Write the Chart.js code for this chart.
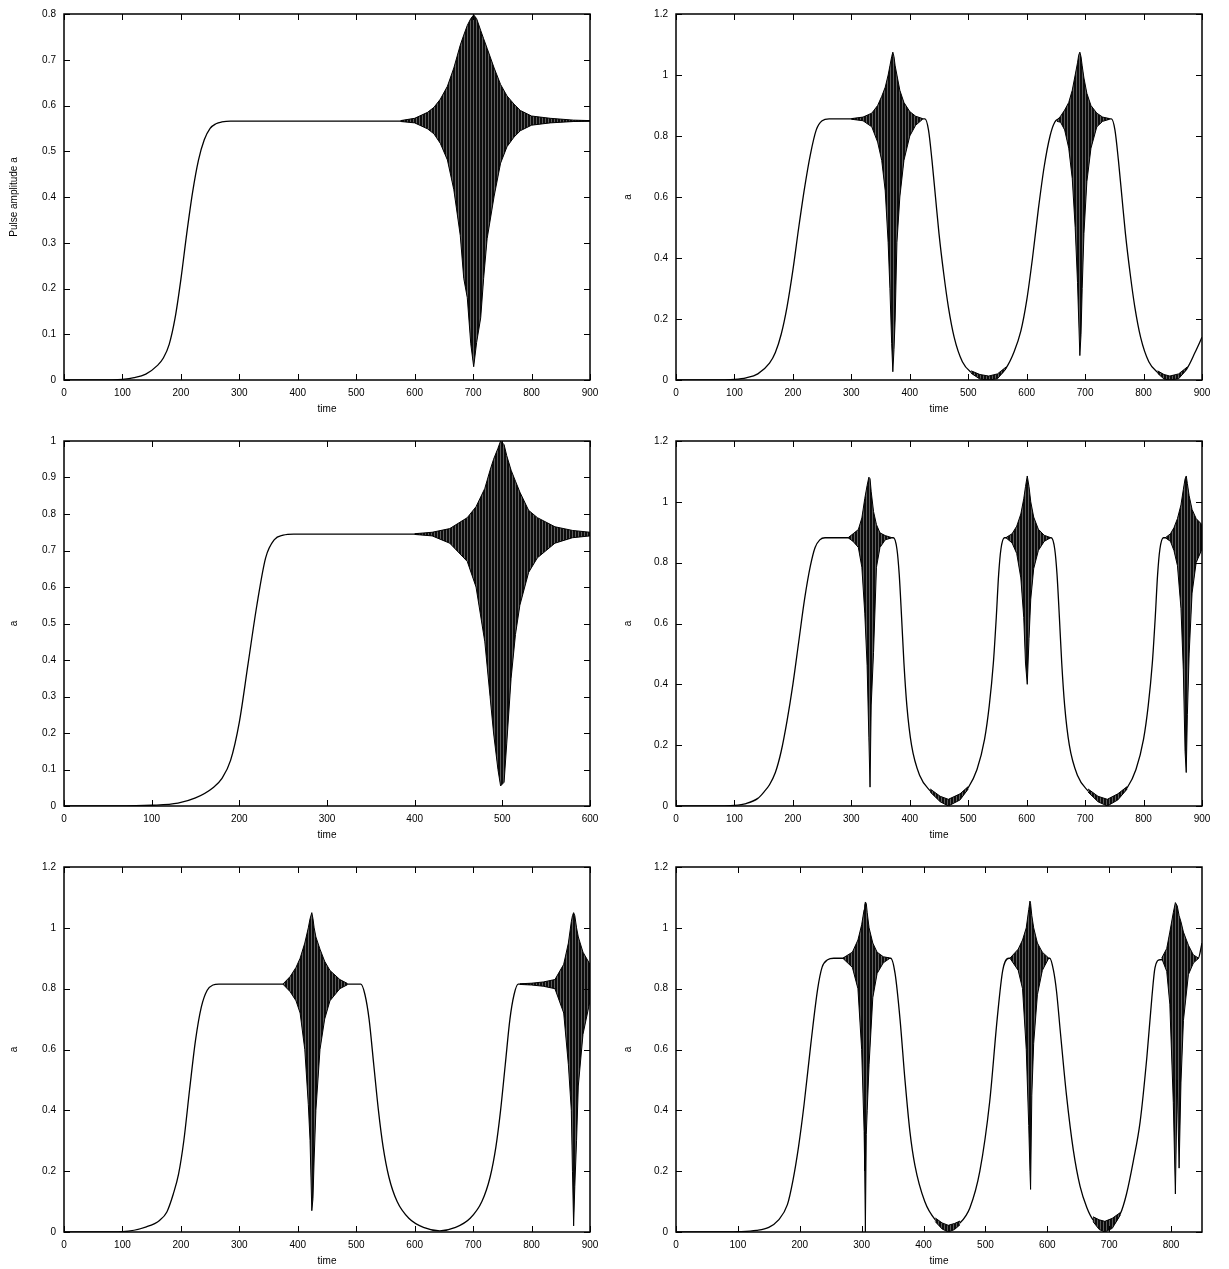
<!DOCTYPE html>
<html>
<head>
<meta charset="utf-8">
<script src="https://cdn.jsdelivr.net/npm/chart.js@4.4.0/dist/chart.umd.min.js"></script>
<style>
body{margin:0;background:#fff;width:1229px;height:1269px;position:relative;overflow:hidden}
canvas{position:absolute}
</style>
</head>
<body>
<canvas id="c1" width="614" height="416" style="left:0;top:0"></canvas>
<canvas id="c2" width="614" height="416" style="left:612px;top:0"></canvas>
<canvas id="c3" width="614" height="415" style="left:0;top:427px"></canvas>
<canvas id="c4" width="614" height="415" style="left:612px;top:427px"></canvas>
<canvas id="c5" width="614" height="415" style="left:0;top:853px"></canvas>
<canvas id="c6" width="614" height="415" style="left:612px;top:853px"></canvas>
<script>
// tick values and labels
const xTicks900 = [0, 100, 200, 300, 400, 500, 600, 700, 800, 900]
const xLabels900 = ['0', '100', '200', '300', '400', '500', '600', '700', '800', '900']
const xTicks600 = [0, 100, 200, 300, 400, 500, 600]
const xLabels600 = ['0', '100', '200', '300', '400', '500', '600']
const xTicks850 = [0, 100, 200, 300, 400, 500, 600, 700, 800]
const xLabels850 = ['0', '100', '200', '300', '400', '500', '600', '700', '800']
const yTicks08 = [0, 0.1, 0.2, 0.3, 0.4, 0.5, 0.6, 0.7, 0.8]
const yLabels08 = ['0', '0.1', '0.2', '0.3', '0.4', '0.5', '0.6', '0.7', '0.8']
const yTicks10 = [0, 0.1, 0.2, 0.3, 0.4, 0.5, 0.6, 0.7, 0.8, 0.9, 1]
const yLabels10 = ['0', '0.1', '0.2', '0.3', '0.4', '0.5', '0.6', '0.7', '0.8', '0.9', '1']
const yTicks12 = [0, 0.2, 0.4, 0.6, 0.8, 1, 1.2]
const yLabels12 = ['0', '0.2', '0.4', '0.6', '0.8', '1', '1.2']

// panel 1 (top left)
const p1Time = [0, 60, 100, 120, 140, 160, 170, 180, 190, 200, 210, 220, 230, 240, 250, 260, 270, 285, 900]
const p1Amp = [0, 0, 0.0015, 0.005, 0.013, 0.032, 0.048, 0.078, 0.135, 0.22, 0.32, 0.41, 0.48, 0.525, 0.55, 0.56, 0.564, 0.566, 0.566]
const p1b1Time = [576, 600, 622, 633, 644, 656, 667, 678, 684, 690, 696, 701, 706, 713, 718, 724, 736, 747, 758, 770, 781, 800, 832, 872, 900]
const p1b1High = [0.567, 0.572, 0.585, 0.596, 0.614, 0.642, 0.682, 0.732, 0.754, 0.775, 0.79, 0.798, 0.79, 0.764, 0.746, 0.725, 0.682, 0.646, 0.621, 0.603, 0.589, 0.577, 0.572, 0.568, 0.567]
const p1b1Low = [0.565, 0.562, 0.549, 0.538, 0.517, 0.481, 0.416, 0.316, 0.222, 0.18, 0.079, 0.029, 0.082, 0.136, 0.222, 0.309, 0.402, 0.474, 0.51, 0.531, 0.545, 0.557, 0.562, 0.565, 0.566]

// panel 2 (top right)
const p2Time = [0, 60, 100, 120, 140, 160, 170, 180, 190, 200, 210, 220, 230, 240, 250, 262, 426, 432, 438, 444, 450, 458, 466, 476, 490, 505, 520, 535, 550, 565, 578, 590, 600, 610, 620, 630, 640, 648, 656, 745, 751, 757, 763, 769, 777, 785, 795, 809, 824, 835, 845, 860, 875, 888, 900]
const p2Amp = [0, 0, 0.002, 0.007, 0.02, 0.055, 0.09, 0.15, 0.24, 0.36, 0.5, 0.63, 0.74, 0.82, 0.85, 0.856, 0.856, 0.82, 0.72, 0.6, 0.48, 0.35, 0.24, 0.14, 0.06, 0.025, 0.01, 0.005, 0.012, 0.04, 0.09, 0.16, 0.26, 0.4, 0.56, 0.7, 0.8, 0.845, 0.856, 0.856, 0.82, 0.72, 0.6, 0.48, 0.35, 0.24, 0.14, 0.06, 0.025, 0.01, 0.005, 0.012, 0.04, 0.09, 0.14]
const p2b1Time = [300, 320, 335, 345, 352, 358, 363, 366, 369, 371, 373, 375, 378, 383, 390, 400, 410, 422]
const p2b1High = [0.857, 0.862, 0.875, 0.9, 0.93, 0.96, 1.0, 1.03, 1.06, 1.075, 1.06, 1.03, 1.0, 0.95, 0.91, 0.88, 0.865, 0.857]
const p2b1Low = [0.855, 0.85, 0.83, 0.78, 0.72, 0.62, 0.45, 0.3, 0.12, 0.027, 0.1, 0.2, 0.45, 0.6, 0.72, 0.8, 0.835, 0.855]
const p2b2Time = [652, 658, 665, 672, 678, 683, 687, 689, 691, 693, 695, 698, 703, 710, 720, 730, 742]
const p2b2High = [0.852, 0.865, 0.885, 0.91, 0.95, 1.0, 1.04, 1.065, 1.075, 1.06, 1.03, 0.99, 0.94, 0.9, 0.875, 0.862, 0.857]
const p2b2Low = [0.848, 0.845, 0.82, 0.76, 0.66, 0.5, 0.32, 0.2, 0.08, 0.15, 0.3, 0.48, 0.65, 0.76, 0.83, 0.848, 0.855]
const p2r1Time = [505, 520, 535, 550, 565]
const p2r2Time = [824, 835, 845, 860, 875]
const p2rHigh = [0.03, 0.018, 0.013, 0.02, 0.043]
const p2rLow = [0.022, 0.003, 0, 0.004, 0.037]

// panel 3 (middle left)
const p3Time = [0, 60, 100, 130, 150, 170, 180, 190, 200, 210, 220, 230, 240, 250, 262, 600]
const p3Amp = [0, 0, 0.002, 0.008, 0.022, 0.05, 0.075, 0.125, 0.23, 0.39, 0.55, 0.68, 0.73, 0.742, 0.745, 0.745]
const p3b1Time = [400, 420, 440, 460, 470, 480, 486, 490, 495, 498, 502, 505, 510, 515, 520, 530, 540, 560, 580, 600]
const p3b1High = [0.746, 0.75, 0.76, 0.79, 0.82, 0.87, 0.92, 0.95, 0.98, 1.0, 0.99, 0.96, 0.92, 0.89, 0.86, 0.81, 0.79, 0.765, 0.755, 0.75]
const p3b1Low = [0.744, 0.74, 0.72, 0.67, 0.6, 0.45, 0.3, 0.2, 0.1, 0.055, 0.065, 0.17, 0.35, 0.47, 0.55, 0.64, 0.68, 0.72, 0.735, 0.74]

// panel 4 (middle right)
const p4Time = [0, 60, 100, 120, 140, 150, 160, 170, 180, 190, 200, 210, 220, 230, 238, 246, 255, 372, 378, 382, 386, 390, 395, 403, 417, 435, 452, 466, 486, 500, 515, 528, 536, 543, 548, 552, 556, 562, 642, 648, 652, 656, 660, 665, 673, 687, 705, 722, 738, 756, 772, 787, 800, 808, 815, 820, 824, 828, 834, 900]
const p4Amp = [0, 0, 0.002, 0.008, 0.025, 0.045, 0.07, 0.11, 0.18, 0.28, 0.4, 0.54, 0.68, 0.79, 0.85, 0.875, 0.882, 0.882, 0.845, 0.76, 0.62, 0.47, 0.33, 0.2, 0.1, 0.05, 0.022, 0.01, 0.03, 0.06, 0.12, 0.22, 0.33, 0.47, 0.62, 0.76, 0.845, 0.882, 0.882, 0.845, 0.76, 0.62, 0.47, 0.33, 0.2, 0.1, 0.05, 0.022, 0.01, 0.03, 0.06, 0.12, 0.22, 0.33, 0.47, 0.62, 0.76, 0.845, 0.882, 0.882]
const p4b1Time = [295, 303, 312, 318, 323, 327, 330, 332, 334, 338, 343, 349, 358, 368]
const p4b1High = [0.883, 0.895, 0.909, 0.947, 1.011, 1.054, 1.081, 1.076, 1.033, 0.968, 0.925, 0.898, 0.889, 0.883]
const p4b1Low = [0.881, 0.87, 0.85, 0.785, 0.634, 0.461, 0.224, 0.062, 0.332, 0.505, 0.785, 0.85, 0.875, 0.881]
const p4b2Time = [565, 575, 583, 590, 595, 598, 601, 604, 607, 612, 620, 630, 640]
const p4b2High = [0.883, 0.895, 0.92, 0.96, 1.01, 1.05, 1.085, 1.05, 1.0, 0.95, 0.91, 0.89, 0.883]
const p4b2Low = [0.881, 0.865, 0.83, 0.75, 0.62, 0.47, 0.4, 0.55, 0.68, 0.78, 0.84, 0.87, 0.881]
const p4b3Time = [838, 846, 852, 858, 864, 868, 871, 873, 875, 878, 883, 890, 900]
const p4b3High = [0.883, 0.895, 0.915, 0.945, 0.99, 1.04, 1.075, 1.085, 1.06, 1.02, 0.975, 0.945, 0.925]
const p4b3Low = [0.881, 0.87, 0.84, 0.79, 0.65, 0.45, 0.18, 0.11, 0.3, 0.5, 0.7, 0.8, 0.845]
const p4r1Time = [435, 452, 466, 486, 500]
const p4r2Time = [705, 722, 738, 756, 772]
const p4rHigh = [0.056, 0.032, 0.022, 0.04, 0.064]
const p4rLow = [0.046, 0.014, 0, 0.02, 0.056]

// panel 5 (bottom left)
const p5Time = [0, 60, 100, 141, 164, 176, 187, 196, 205, 215, 225, 235, 245, 255, 265, 508, 515, 522, 530, 538, 546, 556, 570, 590, 615, 643, 670, 695, 715, 729, 739, 747, 755, 763, 770, 777, 900]
const p5Amp = [0, 0, 0.001, 0.017, 0.039, 0.066, 0.125, 0.19, 0.3, 0.47, 0.63, 0.74, 0.795, 0.812, 0.815, 0.815, 0.78, 0.7, 0.55, 0.4, 0.28, 0.18, 0.1, 0.045, 0.015, 0.004, 0.015, 0.045, 0.1, 0.18, 0.28, 0.4, 0.55, 0.7, 0.78, 0.815, 0.815]
const p5b1Time = [375, 387, 397, 404, 412, 418, 421, 424, 426, 428, 431, 438, 446, 455, 472, 485]
const p5b1High = [0.816, 0.84, 0.87, 0.9, 0.95, 1.0, 1.03, 1.05, 1.03, 1.0, 0.97, 0.93, 0.89, 0.86, 0.83, 0.817]
const p5b1Low = [0.814, 0.79, 0.76, 0.72, 0.6, 0.42, 0.3, 0.07, 0.11, 0.24, 0.4, 0.6, 0.7, 0.76, 0.8, 0.813]
const p5b2Time = [780, 800, 820, 840, 855, 863, 868, 870, 872, 874, 877, 880, 888, 900]
const p5b2High = [0.816, 0.818, 0.822, 0.83, 0.88, 0.95, 1.02, 1.04, 1.05, 1.04, 1.0, 0.97, 0.92, 0.88]
const p5b2Low = [0.814, 0.812, 0.808, 0.8, 0.72, 0.55, 0.4, 0.2, 0.02, 0.15, 0.3, 0.48, 0.65, 0.76]

// panel 6 (bottom right)
const p6Time = [0, 60, 100, 130, 150, 165, 180, 189, 198, 207, 218, 229, 236, 245, 255, 347, 354, 362, 370, 378, 386, 402, 419, 440, 459, 475, 491, 507, 519, 528, 538, 604, 610, 615, 621, 631, 642, 653, 664, 674, 693, 718, 728, 739, 750, 761, 769, 774, 782, 844, 850]
const p6Amp = [0, 0, 0.001, 0.005, 0.015, 0.038, 0.09, 0.17, 0.28, 0.42, 0.62, 0.8, 0.87, 0.895, 0.9, 0.9, 0.85, 0.7, 0.5, 0.33, 0.22, 0.1, 0.04, 0.01, 0.03, 0.08, 0.2, 0.43, 0.7, 0.86, 0.9, 0.9, 0.86, 0.79, 0.66, 0.45, 0.27, 0.15, 0.08, 0.04, 0.01, 0.06, 0.125, 0.233, 0.362, 0.577, 0.771, 0.868, 0.895, 0.9, 0.95]
const p6b1Time = [270, 285, 294, 300, 304, 305, 306, 307.5, 309, 312, 318, 325, 335, 345]
const p6b1High = [0.901, 0.92, 0.96, 1.01, 1.06, 1.075, 1.085, 1.08, 1.05, 1.0, 0.95, 0.92, 0.905, 0.901]
const p6b1Low = [0.899, 0.87, 0.8, 0.6, 0.33, 0.2, 0.0, 0.32, 0.4, 0.55, 0.77, 0.85, 0.885, 0.899]
const p6b2Time = [540, 553, 560, 566, 570, 572, 573, 575, 578, 584, 592, 602]
const p6b2High = [0.901, 0.93, 0.96, 1.0, 1.06, 1.088, 1.08, 1.04, 1.0, 0.95, 0.92, 0.901]
const p6b2Low = [0.899, 0.86, 0.8, 0.6, 0.35, 0.2, 0.14, 0.45, 0.62, 0.78, 0.86, 0.899]
const p6b3Time = [785, 793, 798, 803.6, 807, 810, 813, 816, 820, 828, 836, 844]
const p6b3High = [0.901, 0.932, 0.986, 1.05, 1.083, 1.072, 1.04, 1.02, 0.986, 0.943, 0.911, 0.901]
const p6b3Low = [0.899, 0.857, 0.749, 0.426, 0.125, 0.5, 0.21, 0.49, 0.695, 0.846, 0.884, 0.899]
const p6r1Time = [419, 430, 440, 450, 459]
const p6r1High = [0.046, 0.03, 0.022, 0.028, 0.036]
const p6r1Low = [0.034, 0.01, 0, 0.008, 0.024]
const p6r2Time = [674, 684, 693, 705, 718]
const p6r2High = [0.05, 0.04, 0.035, 0.045, 0.064]
const p6r2Low = [0.034, 0.008, 0, 0.012, 0.056]

const panels = [
    {canvas: 'c1', xMax: 900, xTicks: xTicks900, xLabels: xLabels900, yMax: 0.8, yTicks: yTicks08, yLabels: yLabels08, yTitle: 'Pulse amplitude a', titlePad: 8,
     time: p1Time, amp: p1Amp, bands: [[p1b1Time, p1b1High, p1b1Low]]},
    {canvas: 'c2', xMax: 900, xTicks: xTicks900, xLabels: xLabels900, yMax: 1.2, yTicks: yTicks12, yLabels: yLabels12, yTitle: 'a', titlePad: 10,
     time: p2Time, amp: p2Amp, bands: [[p2b1Time, p2b1High, p2b1Low], [p2b2Time, p2b2High, p2b2Low], [p2r1Time, p2rHigh, p2rLow], [p2r2Time, p2rHigh, p2rLow]]},
    {canvas: 'c3', xMax: 600, xTicks: xTicks600, xLabels: xLabels600, yMax: 1, yTicks: yTicks10, yLabels: yLabels10, yTitle: 'a', titlePad: 8,
     time: p3Time, amp: p3Amp, bands: [[p3b1Time, p3b1High, p3b1Low]]},
    {canvas: 'c4', xMax: 900, xTicks: xTicks900, xLabels: xLabels900, yMax: 1.2, yTicks: yTicks12, yLabels: yLabels12, yTitle: 'a', titlePad: 10,
     time: p4Time, amp: p4Amp, bands: [[p4b1Time, p4b1High, p4b1Low], [p4b2Time, p4b2High, p4b2Low], [p4b3Time, p4b3High, p4b3Low], [p4r1Time, p4rHigh, p4rLow], [p4r2Time, p4rHigh, p4rLow]]},
    {canvas: 'c5', xMax: 900, xTicks: xTicks900, xLabels: xLabels900, yMax: 1.2, yTicks: yTicks12, yLabels: yLabels12, yTitle: 'a', titlePad: 8,
     time: p5Time, amp: p5Amp, bands: [[p5b1Time, p5b1High, p5b1Low], [p5b2Time, p5b2High, p5b2Low]]},
    {canvas: 'c6', xMax: 850, xTicks: xTicks850, xLabels: xLabels850, yMax: 1.2, yTicks: yTicks12, yLabels: yLabels12, yTitle: 'a', titlePad: 10,
     time: p6Time, amp: p6Amp, bands: [[p6b1Time, p6b1High, p6b1Low], [p6b2Time, p6b2High, p6b2Low], [p6b3Time, p6b3High, p6b3Low], [p6r1Time, p6r1High, p6r1Low], [p6r2Time, p6r2High, p6r2Low]]}
]

Chart.defaults.font.family = '"Liberation Sans", Arial, Helvetica, sans-serif'
Chart.defaults.font.size = 10
Chart.defaults.color = '#000'

// streaky dark fill for the dense oscillations
const hatch = document.createElement('canvas')
hatch.width = 3
hatch.height = 1
const hctx = hatch.getContext('2d')
hctx.fillStyle = '#0d0d0d'
hctx.fillRect(0, 0, 3, 1)
hctx.fillStyle = '#5e5e5e'
hctx.fillRect(2, 0, 1, 1)

const toPoints = (ts, vs) => ts.map((t, i) => ({x: t, y: vs[i]}))

// gnuplot style box with inward ticks on all four sides
const frame = {
    id: 'frame',
    afterDatasetsDraw(chart) {
        const {ctx, chartArea: a, scales: {x, y}} = chart
        ctx.save()
        ctx.strokeStyle = '#000'
        ctx.lineWidth = 1
        ctx.beginPath()
        x.ticks.forEach((t) => {
            const px = Math.round(x.getPixelForValue(t.value)) + 0.5
            ctx.moveTo(px, a.bottom)
            ctx.lineTo(px, a.bottom - 6)
            ctx.moveTo(px, a.top)
            ctx.lineTo(px, a.top + 6)
        })
        y.ticks.forEach((t) => {
            const py = Math.round(y.getPixelForValue(t.value)) + 0.5
            ctx.moveTo(a.left, py)
            ctx.lineTo(a.left + 6, py)
            ctx.moveTo(a.right, py)
            ctx.lineTo(a.right - 6, py)
        })
        ctx.stroke()
        ctx.lineWidth = 1.5
        ctx.strokeRect(a.left, a.top, a.right - a.left, a.bottom - a.top)
        ctx.restore()
    }
}

const drawPanel = (p) => {
    const canvas = document.getElementById(p.canvas)
    const pattern = canvas.getContext('2d').createPattern(hatch, 'repeat')
    const datasets = [{
        data: toPoints(p.time, p.amp),
        borderColor: '#000',
        borderWidth: 1.3,
        pointRadius: 0,
        fill: false,
        cubicInterpolationMode: 'monotone',
        order: 1
    }]
    p.bands.forEach(([t, hi, lo]) => {
        datasets.push({data: toPoints(t, hi), borderColor: '#000', borderWidth: 1, pointRadius: 0, fill: false, tension: 0, order: 0})
        datasets.push({data: toPoints(t, lo), borderColor: '#000', borderWidth: 1, pointRadius: 0, fill: '-1', backgroundColor: pattern, tension: 0, order: 0})
    })
    new Chart(canvas, {
        type: 'line',
        data: {datasets},
        plugins: [frame],
        options: {
            responsive: false,
            animation: false,
            events: [],
            layout: {padding: {top: 8, right: 24, left: 0, bottom: 0}},
            plugins: {legend: {display: false}, tooltip: {enabled: false}},
            scales: {
                x: {
                    type: 'linear', min: 0, max: p.xMax,
                    grid: {display: false, drawTicks: false},
                    border: {display: false},
                    afterBuildTicks: (s) => { s.ticks = p.xTicks.map((v) => ({value: v})) },
                    afterFit: (s) => { s.height = 36 },
                    ticks: {padding: 7, maxRotation: 0, autoSkip: false, callback: (v, i) => p.xLabels[i]},
                    title: {display: true, text: 'time', padding: {top: 0, bottom: 1}}
                },
                y: {
                    type: 'linear', min: 0, max: p.yMax,
                    grid: {display: false, drawTicks: false},
                    border: {display: false},
                    afterBuildTicks: (s) => { s.ticks = p.yTicks.map((v) => ({value: v})) },
                    afterFit: (s) => { s.width = 64 },
                    ticks: {padding: 8, autoSkip: false, callback: (v, i) => p.yLabels[i]},
                    title: {display: true, text: p.yTitle, padding: {top: p.titlePad, bottom: 0}}
                }
            }
        }
    })
}

panels.forEach(drawPanel)
</script>
</body>
</html>
